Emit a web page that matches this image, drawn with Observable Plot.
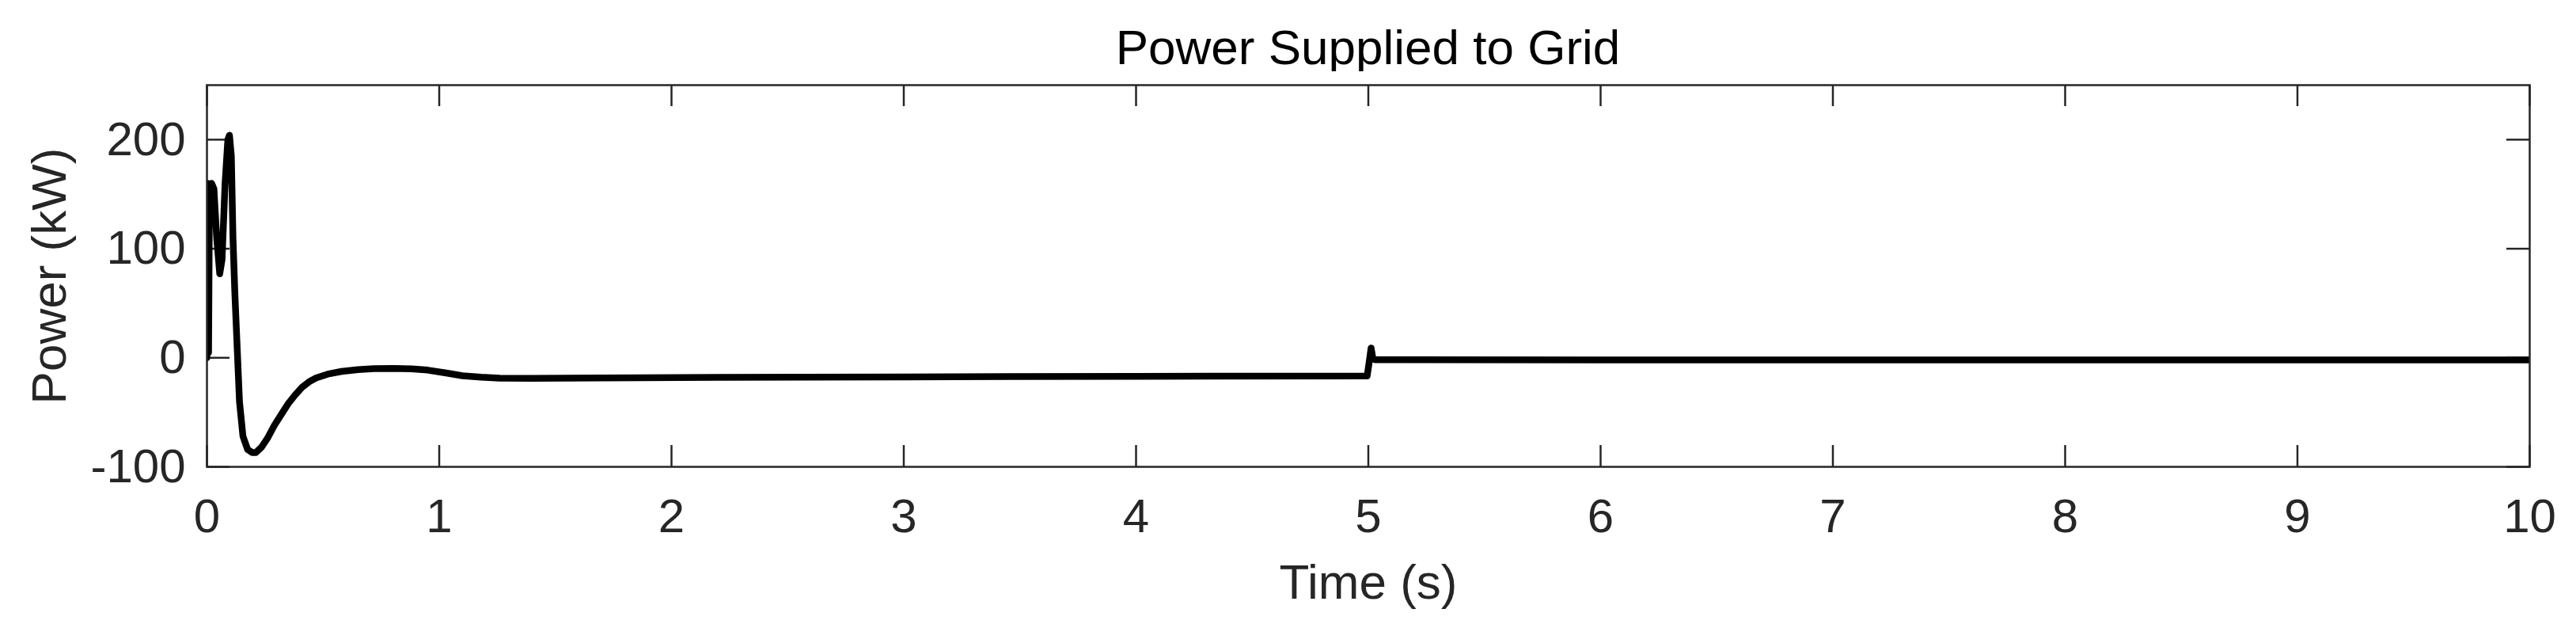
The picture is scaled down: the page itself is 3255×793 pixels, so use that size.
<!DOCTYPE html>
<html><head><meta charset="utf-8">
<script src="https://cdn.jsdelivr.net/npm/d3@7"></script>
<script src="https://cdn.jsdelivr.net/npm/@observablehq/plot@0.6"></script>
<style>
body{margin:0;background:#fff;font-family:"Liberation Sans",Arial,Helvetica,sans-serif;}
#wrap{width:3255px;height:793px;position:relative;overflow:hidden;background:#fff;}
#title{position:absolute;left:261px;width:2935px;top:29px;text-align:center;font-size:62px;line-height:62px;color:#000;}
#chart{position:absolute;left:0;top:90px;}
</style></head><body>
<div id="wrap"><div id="title"></div><div id="chart"></div></div>
<script>
const chartTitle = "Power Supplied to Grid";
const xLabel = "Time (s)";
const yLabel = "Power (kW)";
const xTicks = [0, 1, 2, 3, 4, 5, 6, 7, 8, 9, 10];
const yTicks = [-100, 0, 100, 200];
const timeS = [0, 0.003, 0.007, 0.011, 0.02, 0.03, 0.042, 0.055, 0.065, 0.078, 0.09, 0.097, 0.105, 0.112, 0.12, 0.13, 0.14, 0.155, 0.175, 0.195, 0.21, 0.235, 0.26, 0.29, 0.32, 0.35, 0.38, 0.41, 0.44, 0.47, 0.52, 0.58, 0.65, 0.72, 0.8, 0.88, 0.95, 1.03, 1.1, 1.18, 1.26, 1.4, 1.7, 2.2, 3.0, 4.0, 4.995, 5.003, 5.012, 5.02, 5.03, 6, 7, 8, 9, 10];
const powerKW = [0, 160, 5, 158, 160, 155, 110, 77, 90, 160, 200, 204, 185, 110, 60, 10, -40, -72, -84, -87, -87, -82, -74, -62, -52, -42, -34, -27, -22, -18.5, -15, -12.5, -10.8, -10, -9.7, -10.2, -11.3, -14, -16.5, -17.8, -18.6, -18.8, -18.5, -18, -17.5, -17, -16.6, -5, 9, -1, -1.8, -2, -2, -2, -2, -2];

document.getElementById("title").textContent = chartTitle;
const data = timeS.map((t, i) => ({t, p: powerKW[i]}));
const W = 3255, H = 703;
const mL = 261, mR = 59, mT = 17, mB = 204;
const innerW = W - mL - mR, innerH = H - mT - mB;
const ink = "#262626";
const font = '"Liberation Sans", Arial, Helvetica, sans-serif';
const fmt = d => String(d);

const plot = Plot.plot({
  width: W, height: H,
  marginLeft: mL, marginRight: mR, marginTop: mT, marginBottom: mB,
  style: {fontFamily: font, fontSize: "60px", color: ink, background: "white", overflow: "visible"},
  x: {domain: [0, 10]},
  y: {domain: [-100, 250]},
  marks: [
    Plot.axisX({ticks: xTicks, tickFormat: fmt, tickSize: 0, tickPadding: 40, label: null, fontSize: 60, fill: ink}),
    Plot.axisY({ticks: yTicks, tickFormat: fmt, tickSize: 0, tickPadding: 27, label: null, fontSize: 60, fill: ink}),
    Plot.tickX(xTicks, {x: d => d, stroke: ink, strokeWidth: 2.5, insetTop: innerH - 27}),
    Plot.tickX(xTicks, {x: d => d, stroke: ink, strokeWidth: 2.5, insetBottom: innerH - 27}),
    Plot.tickY(yTicks, {y: d => d, stroke: ink, strokeWidth: 2.5, insetRight: innerW - 29}),
    Plot.tickY(yTicks, {y: d => d, stroke: ink, strokeWidth: 2.5, insetLeft: innerW - 29}),
    Plot.line(data, {x: "t", y: "p", stroke: "black", strokeWidth: 8.5, clip: true}),
    Plot.frame({stroke: ink, strokeWidth: 2.5}),
    Plot.text([xLabel], {text: d => d, frameAnchor: "bottom", lineAnchor: "bottom", dy: 166, fontSize: 62, fill: ink}),
    Plot.text([yLabel], {text: d => d, frameAnchor: "left", textAnchor: "middle", lineAnchor: "bottom", rotate: -90, dx: -179, fontSize: 62, fill: ink})
  ]
});
document.getElementById("chart").appendChild(plot);
</script>
</body></html>
